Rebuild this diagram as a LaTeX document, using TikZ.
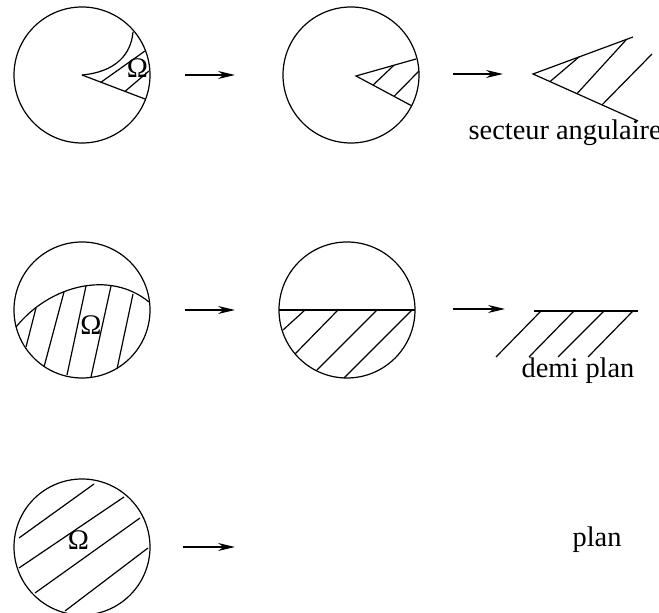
\documentclass[tikz,border=0pt]{standalone}
\usepackage{fontspec}
\setmainfont{Liberation Serif}
\usetikzlibrary{arrows.meta}

\begin{document}
\begin{tikzpicture}[
  x=0.5pt, y=-0.5pt,
  line width=0.6pt,
  font=\fontsize{14.2}{17}\selectfont,
  >={Stealth[length=8.5pt,width=4pt]},
  lbl/.style={anchor=base west, inner sep=0pt},
  omega/.style={anchor=base, inner sep=0pt},
]

\clip (0,0) rectangle (659,613);

\pgfmathsetmacro{\rr}{68}

% =====================================================================
% Row 1: cusp domain -> sector in disc -> angular sector
% =====================================================================
\coordinate (cA) at (82,75);
\coordinate (cB) at (351,75);
\draw (cA) circle (\rr);
\draw (cB) circle (\rr);

% cusp region
\draw (cA) .. controls (115,72) and (131,55) .. (133,32);
\draw (cA) -- (145,99);
\foreach \xa/\ya/\xb/\yb in {101/82.2/145/51, 125/91.4/149/71}{
  \draw (\xa,\ya) -- (\xb,\yb);
}
\node[omega] (omegaA) at (137.5,78) {Ω};

% sector inside the disc
\coordinate (vB) at (356,76);
\draw (416,59) -- (vB) -- (412,106);
\foreach \xa/\ya/\xb/\yb in {373/85.1/394/65.2, 394/96.4/419/71}{
  \draw (\xa,\ya) -- (\xb,\yb);
}

% angular sector
\coordinate (vC) at (533,74);
\draw (633,37) -- (vC) -- (638,121);
\foreach \xa/\ya/\xb/\yb in {550/81.6/579/57, 577/93.7/626/40, 602/104.9/652/54}{
  \draw (\xa,\ya) -- (\xb,\yb);
}
\node[lbl] (secteur) at (468,140) {secteur angulaire};

% arrows
\coordinate (arrAs) at (185,75);  \coordinate (arrAe) at (235,75);
\coordinate (arrBs) at (453,74);  \coordinate (arrBe) at (503,74);
\draw[->] (arrAs) -- (arrAe);
\draw[->] (arrBs) -- (arrBe);

% =====================================================================
% Row 2: curved boundary -> half disc -> half plane
% =====================================================================
\coordinate (cD) at (82,310);
\coordinate (cE) at (347,310);
\draw (cD) circle (\rr);
\draw (cE) circle (\rr);

\draw (16,327) .. controls (50,285) and (110,270) .. (149,302);
\foreach \xa/\ya/\xb/\yb in {36/308/26/347, 64/292/44/367, 86/286/67/375,
                             111/286/91/377, 133/294/117/369}{
  \draw (\xa,\ya) -- (\xb,\yb);
}
\node[omega] (omegaD) at (91,335) {Ω};

\draw (279,310) -- (415,310);
\foreach \xa/\xb/\yb in {305/283/330, 338/295/354, 377/317/370, 412/344/378}{
  \draw (\xa,310) -- (\xb,\yb);
}

% half plane
\draw (534,311) -- (638,311);
\foreach \xa/\xb in {541/496, 574/529, 604/558, 633/588}{
  \draw (\xa,311) -- (\xb,357);
}
\node[lbl] (demi) at (521,378) {demi plan};

\coordinate (arrCs) at (185,310);  \coordinate (arrCe) at (235,310);
\coordinate (arrDs) at (453,309);  \coordinate (arrDe) at (505,309);
\draw[->] (arrCs) -- (arrCe);
\draw[->] (arrDs) -- (arrDe);

% =====================================================================
% Row 3: whole disc -> plane
% =====================================================================
\coordinate (cF) at (82,547);
\draw (cF) circle (\rr);
\foreach \xa/\ya/\xb/\yb in {19/538/94/484, 19/568/124/497,
                             35/593/140/518, 65/611/148/548}{
  \draw (\xa,\ya) -- (\xb,\yb);
}
\node[omega] (omegaF) at (78.5,550) {Ω};

\coordinate (arrEs) at (183,547);  \coordinate (arrEe) at (235,547);
\draw[->] (arrEs) -- (arrEe);

\node[lbl] (plan) at (572,547) {plan};

\end{tikzpicture}
\end{document}
